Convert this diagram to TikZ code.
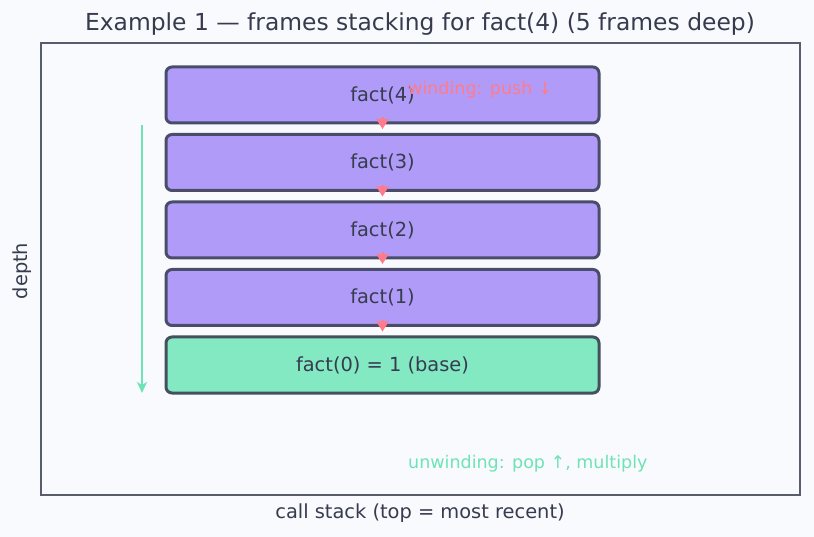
\documentclass[tikz,border=0pt]{standalone}
\usepackage{fontspec}
\setmainfont{DejaVu Sans}
\usetikzlibrary{arrows.meta}
\definecolor{bgcol}{HTML}{F9FAFD}
\definecolor{framecol}{HTML}{585D6C}
\definecolor{inkcol}{HTML}{363C4E}
\definecolor{framefill}{HTML}{B09CF8}
\definecolor{basefill}{HTML}{82E9C2}
\definecolor{boxline}{HTML}{4A4D6A}
\definecolor{baseline}{HTML}{43505E}
\definecolor{pushcol}{HTML}{FF7B8B}
\definecolor{popcol}{HTML}{6EE3B5}
\tikzset{
	stackframe/.style={draw=boxline, line width=3pt, rounded corners=6pt, fill=framefill, minimum width=433pt, minimum height=56pt, text=inkcol, font=\fontsize{19.4}{22}\selectfont},
	pusharrow/.style={draw=pushcol, line width=2pt, -{Triangle[length=10pt,width=12pt]}}
}

\begin{document}
\begin{tikzpicture}[x=1pt, y=-1pt]
			%%%%% START %%%%%
			
			\fill[bgcol] (0, 0) rectangle (814, 537);
			\useasboundingbox (0, 0) rectangle (814, 537);
			
			\node[text=inkcol, font=\fontsize{23.4}{27}\selectfont] (title) at (420, 24) {Example 1 — frames stacking for fact(4) (5 frames deep)};
			\draw[line width=2pt, color=framecol] (41, 43) rectangle (800, 495);
			\node[text=inkcol, font=\fontsize{19.4}{22}\selectfont] (xlab) at (420, 513) {call stack (top = most recent)};
			\node[text=inkcol, font=\fontsize{19.4}{22}\selectfont, rotate=90] (ylab) at (22, 271) {depth};
			
			\draw[line width=2.8pt, color=popcol, -{Stealth[length=11pt,width=10pt,inset=3pt]}] (142, 125) -- (142, 393);
			
			\node[stackframe] (f4) at (382.5, 95) {fact(4)};
			\node[stackframe] (f3) at (382.5, 162.5) {fact(3)};
			\node[stackframe] (f2) at (382.5, 230) {fact(2)};
			\node[stackframe] (f1) at (382.5, 297.5) {fact(1)};
			\node[stackframe, fill=basefill, draw=baseline] (f0) at (382.5, 365) {fact(0) = 1 (base)};
			
			\draw[pusharrow] ([yshift=7pt]f4.south) -- ([yshift=4pt]f3.north);
			\draw[pusharrow] ([yshift=7pt]f3.south) -- ([yshift=4pt]f2.north);
			\draw[pusharrow] ([yshift=7pt]f2.south) -- ([yshift=4pt]f1.north);
			\draw[pusharrow] ([yshift=7pt]f1.south) -- ([yshift=4pt]f0.north);
			
			\node[anchor=west, inner sep=0pt, text=pushcol, font=\fontsize{17.5}{20}\selectfont] (wind) at (408, 90) {winding: push ↓};
			\node[anchor=west, inner sep=0pt, text=popcol, font=\fontsize{17.5}{20}\selectfont] (unwind) at (408, 464) {unwinding: pop ↑, multiply};
			
			%%%%% END %%%%%
		\end{tikzpicture}
\end{document}
